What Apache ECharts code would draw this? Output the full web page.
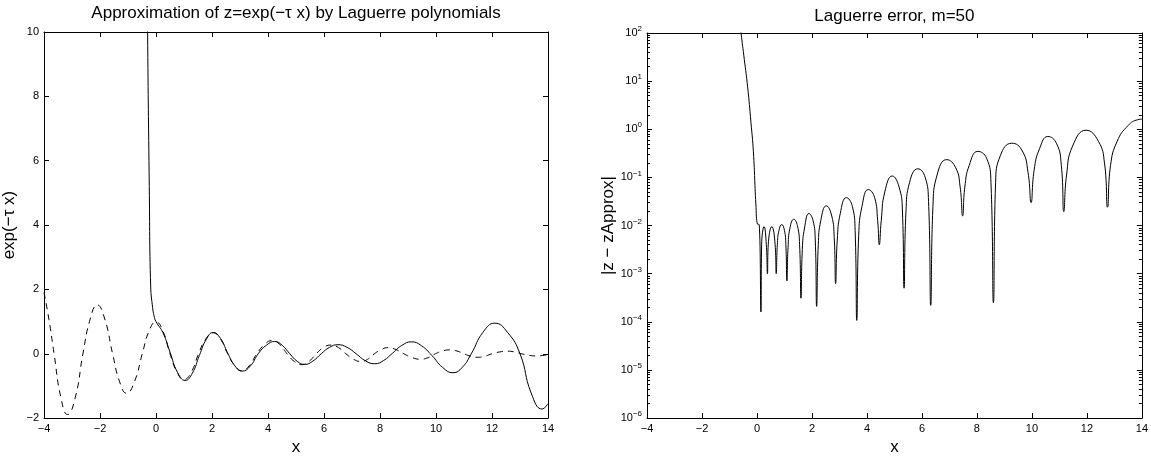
<!DOCTYPE html>
<html>
<head>
<meta charset="utf-8">
<script src="https://cdn.jsdelivr.net/npm/echarts@6/dist/echarts.min.js"></script>
<style>
html, body { margin: 0; padding: 0; background: #fff; }
#main { width: 1151px; height: 461px; }
</style>
</head>
<body>
<div id="main"></div>
<script>
//数据：精确函数（虚线）
var exactX = [-4, -3.82, -3.64, -3.40, -3.16, -2.88, -2.61, -2.35, -2.10, -1.83, -1.55, -1.30, -1.05, -0.77, -0.49, -0.25, 0,
    0.25, 0.5, 0.75, 1.0, 1.26, 1.52, 1.78, 2.05, 2.3, 2.56, 2.82, 3.07, 3.33, 3.6, 3.88, 4.15, 4.42, 4.68,
    4.94, 5.2, 5.46, 5.72, 5.98, 6.25, 6.52, 6.78, 7.05, 7.33, 7.56, 7.8, 8.05, 8.29, 8.57, 8.85,
    9.15, 9.45, 9.72, 9.98, 10.23, 10.49, 10.75, 11.0, 11.24, 11.47, 11.74, 12.0, 12.28, 12.55, 12.8, 13.05,
    13.33, 13.6, 13.8, 14.0];
var exactY = [1.9, 1.05, 0, -1.35, -1.89, -1.35, 0, 1.08, 1.52, 1.08, 0, -0.87, -1.23, -0.87, 0, 0.70, 0.99,
    0.70, 0, -0.57, -0.8, -0.57, 0, 0.46, 0.65, 0.46, 0, -0.37, -0.53, -0.37, 0, 0.29, 0.41, 0.29, 0,
    -0.24, -0.34, -0.24, 0, 0.19, 0.27, 0.19, 0, -0.17, -0.24, -0.17, 0, 0.13, 0.19, 0.13, 0,
    -0.12, -0.17, -0.12, 0, 0.085, 0.12, 0.085, 0, -0.078, -0.11, -0.078, 0, 0.057, 0.08, 0.057, 0,
    -0.05, -0.07, -0.055, -0.03];

//数据：Laguerre 近似（实线）
var approxX = [-0.33, -0.30, -0.24, -0.19, -0.12, -0.07, 0, 0.25, 0.5, 0.77, 1.04, 1.3, 1.55, 1.8, 2.04, 2.3, 2.55,
    2.82, 3.08, 3.37, 3.65, 3.95, 4.24, 4.51, 4.78, 5.05, 5.31, 5.6, 5.9, 6.2, 6.5, 6.82, 7.15,
    7.48, 7.81, 8.13, 8.45, 8.78, 9.12, 9.48, 9.85, 10.23, 10.61, 10.94, 11.26, 11.68, 12.1, 12.55, 13.0,
    13.4, 13.79, 14.0];
var approxY = [14, 10, 5.2, 2.1, 1.43, 1.18, 1.0, 0.65, 0.05, -0.58, -0.83, -0.6, -0.05, 0.45, 0.66, 0.48, 0.04,
    -0.38, -0.54, -0.38, 0, 0.27, 0.38, 0.26, 0, -0.24, -0.33, -0.23, 0, 0.2, 0.28, 0.2, 0,
    -0.22, -0.31, -0.21, 0.02, 0.26, 0.37, 0.25, -0.05, -0.42, -0.59, -0.42, 0, 0.67, 0.95, 0.67, 0,
    -1.22, -1.72, -1.55];

//数据：误差 |z - zApprox|
var errX = [-0.60, -0.58, -0.46, -0.34, -0.22, -0.13, -0.04, 0.02, 0.08, 0.144,
    0.17, 0.26, 0.34, 0.38, 0.41, 0.54, 0.66, 0.70,
    0.74, 0.80, 0.90, 1.00, 1.05, 1.09,
    1.13, 1.20, 1.34, 1.47, 1.55, 1.60,
    1.65, 1.73, 1.89, 2.04, 2.12, 2.17,
    2.23, 2.32, 2.52, 2.72, 2.81, 2.86,
    2.92, 3.03, 3.25, 3.47, 3.57, 3.63,
    3.70, 3.82, 4.05, 4.28, 4.39, 4.45,
    4.52, 4.65, 4.92, 5.17, 5.29, 5.35,
    5.42, 5.55, 5.85, 6.12, 6.24, 6.32,
    6.40, 6.55, 6.9, 7.23, 7.39, 7.48,
    7.56, 7.72, 8.03, 8.35, 8.51, 8.60,
    8.68, 8.85, 9.27, 9.65, 9.86, 9.97,
    10.08, 10.28, 10.58, 10.9, 11.07, 11.16,
    11.26, 11.48, 11.97, 12.42, 12.64, 12.75,
    12.86, 13.1, 13.5, 13.85, 14.0];
var errY = [130, 100, 28, 7.6, 1.4, 0.34, 0.028, 0.0107, 0.0105, 1.6e-4,
    0.004, 0.0095, 0.004, 1.0e-3, 0.004, 0.0095, 0.004, 1.0e-3,
    0.004, 0.0079, 0.0105, 0.0079, 0.004, 7.1e-4,
    0.0035, 0.0089, 0.0135, 0.01, 0.004, 3.1e-4,
    0.0032, 0.0089, 0.0178, 0.0126, 0.005, 2.1e-4,
    0.004, 0.0126, 0.0257, 0.0158, 0.0056, 6.2e-4,
    0.005, 0.0178, 0.038, 0.025, 0.0079, 1.07e-4,
    0.0063, 0.025, 0.056, 0.038, 0.0126, 0.004,
    0.0126, 0.05, 0.107, 0.063, 0.02, 5.0e-4,
    0.02, 0.079, 0.151, 0.1, 0.0316, 2.2e-4,
    0.025, 0.112, 0.234, 0.158, 0.063, 0.0158,
    0.063, 0.178, 0.347, 0.251, 0.079, 2.5e-4,
    0.079, 0.282, 0.513, 0.355, 0.126, 0.030,
    0.141, 0.398, 0.708, 0.5, 0.178, 0.0195,
    0.112, 0.447, 0.955, 0.562, 0.2, 0.024,
    0.178, 0.562, 1.2, 1.58, 1.62];

//对数轴次刻度 2..9 x 10^k
var minorTicks = [];
for (var k = -6; k < 2; k++) {
    for (var m = 2; m <= 9; m++) {
        minorTicks.push(m * Math.pow(10, k));
    }
}

function pairs(xs, ys) {
    var out = [];
    for (var i = 0; i < xs.length; i++) {
        out.push([xs[i], ys[i]]);
    }
    return out;
}

function minus(v) {
    return String(v).replace("-", "\u2212");
}

var font = "Liberation Sans, Arial, Helvetica, sans-serif";
var black = "#000";

var chart = echarts.init(document.getElementById("main"));

//坐标轴公共样式
function boxAxis(extra) {
    var base = {
        axisLine: { show: true, onZero: false, lineStyle: { color: black, width: 1 } },
        axisTick: { show: true, inside: true, length: 5, lineStyle: { color: black } },
        axisLabel: { show: false },
        splitLine: { show: false }
    };
    for (var key in extra) {
        base[key] = extra[key];
    }
    return base;
}

var labelStyle = { show: true, color: black, fontSize: 11, fontFamily: font, margin: 5, formatter: minus };
var nameStyle = { color: black, fontSize: 17, fontFamily: font };
var minorTick = { show: true, inside: true, length: 3, customValues: minorTicks, lineStyle: { color: black } };

var option = {
    animation: false,
    backgroundColor: "#fff",
    grid: [
        { left: 44, right: 603, top: 27, bottom: 38 },
        { left: 647, right: 6, top: 33, bottom: 38 }
    ],
    xAxis: [
        boxAxis({ gridIndex: 0, type: "value", position: "bottom", min: -4, max: 14, interval: 2,
            axisLabel: labelStyle,
            name: "x", nameLocation: "middle", nameGap: 20, nameTextStyle: nameStyle }),
        boxAxis({ gridIndex: 0, type: "value", position: "top", min: -4, max: 14, interval: 2,
            name: "Approximation of z=exp(\u2212\u03c4 x) by Laguerre polynomials",
            nameLocation: "middle", nameGap: 10, nameTextStyle: nameStyle }),
        boxAxis({ gridIndex: 1, type: "value", position: "bottom", min: -4, max: 14, interval: 2,
            axisLabel: labelStyle,
            name: "x", nameLocation: "middle", nameGap: 20, nameTextStyle: nameStyle }),
        boxAxis({ gridIndex: 1, type: "value", position: "top", min: -4, max: 14, interval: 2,
            name: "Laguerre error, m=50",
            nameLocation: "middle", nameGap: 8, nameTextStyle: nameStyle })
    ],
    yAxis: [
        boxAxis({ gridIndex: 0, type: "value", position: "left", min: -2, max: 10, interval: 2,
            axisLabel: labelStyle,
            name: "exp(\u2212\u03c4 x)", nameLocation: "middle", nameGap: 26, nameRotate: 90,
            nameTextStyle: nameStyle }),
        boxAxis({ gridIndex: 0, type: "value", position: "right", min: -2, max: 10, interval: 2 }),
        boxAxis({ gridIndex: 1, type: "log", logBase: 10, position: "left", min: 1e-6, max: 1e2, splitNumber: 8,
            axisLabel: {
                show: true, color: black, fontFamily: font, margin: 5,
                formatter: function(v) {
                    var e = Math.round(Math.log(v) / Math.LN10);
                    return "{b|10}{e|" + minus(e) + "}";
                },
                rich: {
                    b: { fontSize: 11, fontFamily: font, color: black },
                    e: { fontSize: 8, fontFamily: font, color: black, padding: [0, 0, 8, 0] }
                }
            },
            name: "|z \u2212 zApprox|", nameLocation: "middle", nameGap: 30, nameRotate: 90,
            nameTextStyle: nameStyle }),
        boxAxis({ gridIndex: 1, type: "log", logBase: 10, position: "right", min: 1e-6, max: 1e2, splitNumber: 8 }),
        boxAxis({ gridIndex: 1, type: "log", logBase: 10, position: "left", min: 1e-6, max: 1e2,
            axisLine: { show: false, onZero: false }, axisTick: minorTick }),
        boxAxis({ gridIndex: 1, type: "log", logBase: 10, position: "right", min: 1e-6, max: 1e2,
            axisLine: { show: false, onZero: false }, axisTick: minorTick })
    ],
    series: [
        {
            name: "exact",
            type: "line",
            xAxisIndex: 0,
            yAxisIndex: 0,
            data: pairs(exactX, exactY),
            smooth: 0.5,
            showSymbol: false,
            lineStyle: { color: black, width: 1, type: [6, 5] }
        },
        {
            name: "approx",
            type: "line",
            xAxisIndex: 0,
            yAxisIndex: 0,
            data: pairs(approxX, approxY),
            smooth: 0.5,
            showSymbol: false,
            lineStyle: { color: black, width: 1 }
        },
        {
            name: "error",
            type: "line",
            xAxisIndex: 2,
            yAxisIndex: 2,
            data: pairs(errX, errY),
            smooth: 0.5,
            showSymbol: false,
            lineStyle: { color: black, width: 1 }
        }
    ]
};

chart.setOption(option);
</script>
</body>
</html>
